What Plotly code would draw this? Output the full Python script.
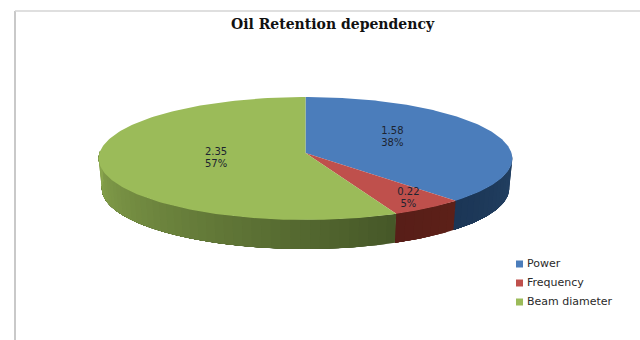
import numpy as np
import plotly.graph_objects as go

# Chart data
categories = ["Power", "Frequency", "Beam diameter"]
values = [1.58, 0.22, 2.35]
title = "Oil Retention dependency"

# Slice colours: top face, then wall shade at the start and end of each sweep
top_colors = ["#4b7dbb", "#bf504c", "#9bbb59"]
wall_start = [(36, 66, 100), (92, 32, 24), (70, 88, 40)]
wall_end = [(27, 54, 86), (88, 30, 24), (138, 166, 78)]

# Projection of the disc: a tilted circle seen in perspective
CX, CY = 305.5, 153.0
A, B, K = 206.0, 61.0, 0.0894
DEPTH = 30.0
BOTTOM_SCALE = 0.985
LABEL_RADIUS = [0.46, 0.85, 0.44]
LABEL_SHIFT = [-5, -1, 0]
LABEL_LINE_GAP = 12


def project(theta_deg, rho=1.0, drop=0.0, scale=1.0):
    t = np.radians(theta_deg)
    u, v = rho * np.sin(t), -rho * np.cos(t)
    w = 1 - K * v
    return CX + scale * A * u / w, CY + drop + scale * B * v / w


total = sum(values)
edges = np.concatenate([[0], np.cumsum(values) / total * 360])

fig = go.Figure()


def polygon(xs, ys, color):
    fig.add_trace(go.Scatter(
        x=xs, y=ys, mode="lines", fill="toself", fillcolor=color,
        line=dict(width=0), hoverinfo="skip", showlegend=False,
    ))


# Side wall on the half facing the viewer. Every strip runs to the end of its
# slice and the next one paints over it, so no seams show through the gradient.
for i in range(len(values)):
    lo, hi = max(edges[i], 90.0), min(edges[i + 1], 272.0)
    if hi <= lo:
        continue
    steps = max(int((hi - lo) / 2.5), 1)
    for j, start in enumerate(np.linspace(lo, hi, steps, endpoint=False)):
        f = j / max(steps - 1, 1)
        rgb = [round(a + (b - a) * f) for a, b in zip(wall_start[i], wall_end[i])]
        arc = np.linspace(start, hi, 60)
        tx, ty = project(arc)
        bx, by = project(arc[::-1], drop=DEPTH, scale=BOTTOM_SCALE)
        polygon(np.r_[tx, bx, tx[0]], np.r_[ty, by, ty[0]], f"rgb({rgb[0]},{rgb[1]},{rgb[2]})")

# Top face of each slice
for i in range(len(values)):
    arc = np.linspace(edges[i], edges[i + 1], 160)
    x, y = project(arc)
    polygon(np.r_[CX, x, CX], np.r_[CY, y, CY], top_colors[i])

# Value and share labels on the slices, set as two tightly spaced lines
for i, v in enumerate(values):
    mid = (edges[i] + edges[i + 1]) / 2
    lx, ly = project(mid, rho=LABEL_RADIUS[i])
    ly = float(ly) + LABEL_SHIFT[i]
    fig.add_trace(go.Scatter(
        x=[float(lx), float(lx)],
        y=[ly - LABEL_LINE_GAP / 2, ly + LABEL_LINE_GAP / 2],
        mode="text",
        text=[f"{v:.2f}", f"{round(v / total * 100)}%"],
        textposition="middle center",
        textfont=dict(family="DejaVu Sans", size=10, color="#1d2430"),
        hoverinfo="skip", showlegend=False,
    ))

# Key in the lower right corner
key_y = [264, 283, 302]
for name, color, y in zip(categories, top_colors, key_y):
    fig.add_trace(go.Scatter(
        x=[519.5], y=[y], mode="markers",
        marker=dict(symbol="square", size=7, color=color),
        hoverinfo="skip", showlegend=False,
    ))
    fig.add_trace(go.Scatter(
        x=[527], y=[y], mode="text", text=[name],
        textposition="middle right",
        textfont=dict(family="DejaVu Sans", size=11, color="#2a2a2a"),
        hoverinfo="skip", showlegend=False,
    ))

fig.update_layout(
    width=640, height=340, margin=dict(l=0, r=0, t=0, b=0),
    paper_bgcolor="white", plot_bgcolor="white", showlegend=False,
    xaxis=dict(range=[0, 640], visible=False, fixedrange=True),
    yaxis=dict(range=[340, 0], visible=False, fixedrange=True),
    annotations=[dict(
        text=f"<b>{title}</b>", x=333, y=24, xref="x", yref="y", showarrow=False,
        font=dict(family="DejaVu Serif", size=14, color="#111111"),
    )],
    shapes=[
        dict(type="line", xref="x", yref="y", x0=15, x1=15, y0=11, y1=340,
             line=dict(color="#c9c9c9", width=2)),
        dict(type="line", xref="x", yref="y", x0=15, x1=640, y0=11, y1=11,
             line=dict(color="#d4d4d4", width=1.5)),
    ],
)

fig.write_html("out.html", config={"displayModeBar": False})
